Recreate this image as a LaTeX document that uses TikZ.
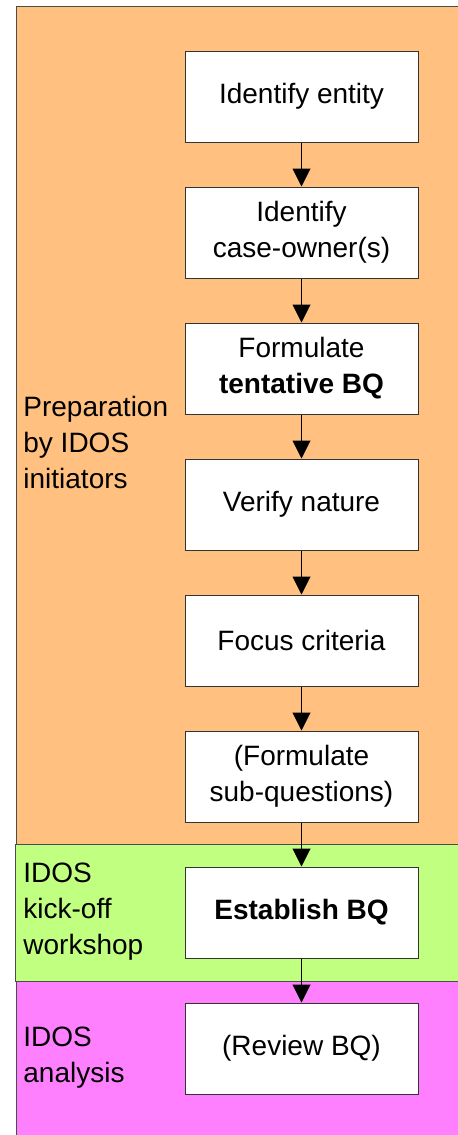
\documentclass[tikz,border=0pt]{standalone}
\usepackage{fontspec}
\setmainfont{Liberation Sans}
\usetikzlibrary{arrows.meta, positioning}

\definecolor{prepcol}{RGB}{255,192,128}
\definecolor{kickcol}{RGB}{192,255,128}
\definecolor{anacol}{RGB}{255,128,255}

\tikzset{
  stepbox/.style={draw=black!80, fill=white, line width=0.5pt, minimum width=116.5pt,
    minimum height=45.5pt, align=center, inner sep=0pt, font=\fontsize{14}{18}\selectfont},
  phase/.style={draw=black!70, line width=0.5pt},
  phaselabel/.style={anchor=west, align=left, inner sep=0pt, font=\fontsize{14}{18}\selectfont},
  flow/.style={-{Triangle[width=9pt,length=9pt]}, line width=0.5pt},
}

\begin{document}
\begin{tikzpicture}[x=0.5pt, y=-0.5pt, node distance=22pt]
    \useasboundingbox (0,0) rectangle (458,1135);
    \clip (0,0) rectangle (458,1135);

    % Phasen
    \draw[phase, fill=prepcol] (16,6) rectangle (470,844);
    \draw[phase, fill=kickcol] (15,844) rectangle (470,981);
    \draw[phase, fill=anacol] (16,981) rectangle (470,1150);

    % Phasen-Beschriftung
    \node[phaselabel] (lprep) at (23,442) {Preparation\\by IDOS\\initiators};
    \node[phaselabel] (lkick) at (23,912) {IDOS\\kick-off\\workshop};
    \node[phaselabel] (lana) at (23,1058) {IDOS\\analysis};

    % Schritte
    \node[stepbox] (entity) at (301.5,96.5) {Identify entity};
    \node[stepbox, below=of entity] (owner) {Identify\\case-owner(s)};
    \node[stepbox, below=of owner] (tentative) {Formulate\\\textbf{tentative BQ}};
    \node[stepbox, below=of tentative] (nature) {Verify nature};
    \node[stepbox, below=of nature] (focus) {Focus criteria};
    \node[stepbox, below=of focus] (subq) {(Formulate\\sub-questions)};
    \node[stepbox, below=of subq] (establish) {\textbf{Establish BQ}};
    \node[stepbox, below=of establish] (review) {(Review BQ)};

    % Pfeile
    \foreach \a/\b in {entity/owner, owner/tentative, tentative/nature, nature/focus,
                       focus/subq, subq/establish, establish/review} {
        \draw[flow] (\a) -- (\b);
    }
\end{tikzpicture}
\end{document}
